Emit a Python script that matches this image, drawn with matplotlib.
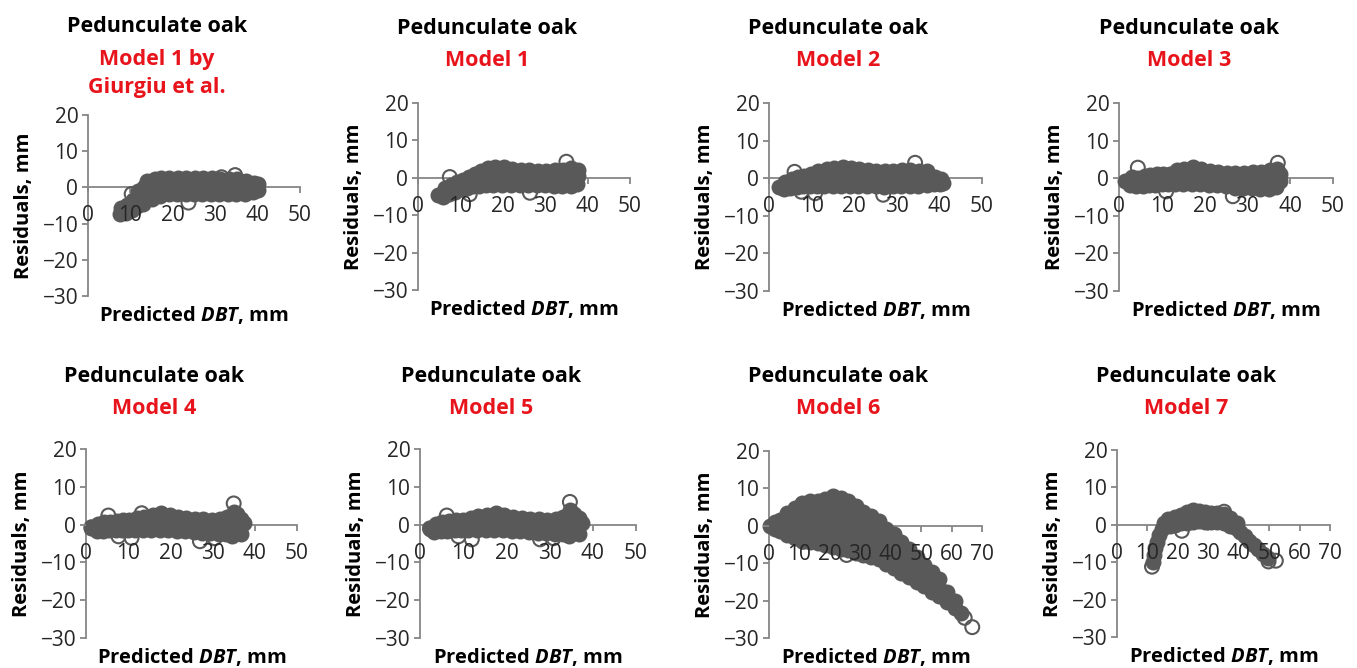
import matplotlib.pyplot as plt

plt.rcParams['font.family'] = ['Open Sans', 'DejaVu Sans']
plt.rcParams['mathtext.fontset'] = 'custom'
plt.rcParams['mathtext.rm'] = 'Open Sans:bold'
plt.rcParams['mathtext.it'] = 'Open Sans:bold:italic'
plt.rcParams['mathtext.bf'] = 'Open Sans:bold'

# residuals: dense part of each cloud, then the lone rings
giurgiu_core = [(7.5, -7.4), (7.8, -5.6), (9, -7.0), (9.3, -4.8), (10.3, -6.2), (10.6, -3.6), (11.5, -5.2),
                (11.5, -3.0), (11.8, -1.0), (13, -4.5), (13, -2.3), (13.3, 0.0), (13.8, 1.8), (15, -3.2),
                (15, -1.2), (15.3, 1.0), (15.8, 2.4), (17, -2.4), (17, 0.0), (17.3, 2.5),
                (19, -1.9), (21, -1.8), (23, -1.9), (25, -1.8), (27, -1.9), (29, -1.8), (31, -1.9), (33, -1.8),
                (35, -1.9), (37, -1.7), (20, 0.3), (22, 0.3), (24, 0.3), (26, 0.3), (28, 0.3), (30, 0.3),
                (32, 0.3), (34, 0.3), (36, 0.3), (38, 0.2), (19.2, 2.5), (21.2, 2.6), (23.2, 2.5), (25.2, 2.6),
                (27.2, 2.5), (29.2, 2.6), (31.2, 2.4), (33.2, 2.4), (35.2, 2.3), (37.2, 1.9),
                (39, -1.2), (39.2, 1.2), (40.2, 0.9), (40.2, -0.8)]
giurgiu_sparse = [(10.3, -1.8), (23.7, -4.2), (34.7, 3.4), (31.5, 2.8)]

model1_core = [(4.8, -4.6), (5.8, -5.0), (6.3, -2.8), (7.3, -4.3), (7.8, -2.0), (8.8, -3.7), (9.2, -1.2),
               (10.2, -3.1), (10.6, -0.6), (11.6, -2.6), (12, 0.3), (13, -2.3), (13.4, 1.1), (14.5, -2.1),
               (14.8, 1.7), (16, -2.0), (16.2, 0.2), (16.6, 2.6), (17.8, -1.9), (18, 0.5), (18.2, 3.0),
               (19.8, -1.9), (20, 0.5), (20.2, 2.9), (22, -1.9), (22, 0.3), (22.2, 2.4), (24, -2.0), (24, 0.2),
               (24.2, 2.1), (26, -2.0), (26, 0.1), (26.2, 2.0), (28, -2.0), (28, 0.1), (28.2, 1.9), (30, -2.0),
               (30, 0.1), (30.2, 1.9), (32, -2.1), (32, 0.1), (32.2, 2.0), (34, -2.2), (34, 0.1), (34.2, 2.1),
               (36, -2.2), (36, 0.2), (36.2, 2.6), (37.6, -1.6), (37.8, 0.4), (37.8, 2.0)]
model1_sparse = [(7.5, 0.2), (12.2, -4.4), (26.4, -4.0), (35, 4.3)]

model2_core = [(2.3, -2.4), (3.5, -2.8), (3.8, -0.9), (5, -2.6), (5.3, -0.3), (6.6, -2.3), (6.8, 0.4), (8, -2.1),
               (8.3, 0.7), (9.6, -2.0), (9.8, 1.1), (11.2, -2.0), (11.4, 0.4), (11.6, 1.8), (13, -2.0), (13.2, 0.4),
               (13.5, 2.4), (15, -2.0), (15, 0.4), (15.3, 2.7), (17, -2.0), (17, 0.4), (17.3, 3.0), (19, -2.0),
               (19, 0.4), (19.2, 2.8), (21, -2.0), (21, 0.3), (21.2, 2.4), (23, -2.0), (23, 0.2), (23.2, 2.1),
               (25, -2.1), (25, 0.1), (25.2, 1.9), (27, -2.3), (27, 0.1), (27.2, 1.9), (29, -2.2), (29, 0.1),
               (29.2, 2.0), (31, -2.1), (31, 0.2), (31.2, 2.3), (33, -2.1), (33, 0.2), (33.2, 2.2), (35, -2.0),
               (35, 0.2), (35.2, 2.0), (37, -1.9), (37, 0.1), (37.2, 1.8), (38.8, -1.6), (39, 0.4), (40.2, -1.6),
               (40.3, -0.1), (40.8, -1.4)]
model2_sparse = [(6.0, 1.7), (7.6, -3.6), (10.8, -4.0), (26.8, -4.4), (34.3, 4.1)]

model3_core = [(1.5, -0.7), (2.5, -1.9), (3, 0.2), (4, -2.1), (4.5, 0), (5.5, -2.0), (6, 0.5), (7, -1.8),
               (7.3, 0.8), (8.5, -1.7), (8.8, 1.0), (10, -1.6), (10.3, 1.0), (11.5, -1.6), (11.8, 1.1), (13, -1.6),
               (13.2, 0.3), (13.5, 2.2), (15, -1.6), (15, 0.4), (15.3, 2.5), (17, -1.6), (17, 0.4), (17.3, 3.0),
               (19, -1.6), (19, 0.4), (19.2, 2.5), (21, -1.7), (21, 0.3), (21.2, 2.0), (23, -1.8), (23, 0.2),
               (23.2, 1.7), (25, -2.1), (25, -0.1), (25.2, 1.5), (27, -2.5), (27, -0.3), (27.2, 1.5), (29, -2.5),
               (29, -0.3), (29.2, 1.5), (31, -2.6), (31, -0.3), (31.2, 1.7), (33, -2.8), (33, -0.5), (33.2, 1.7),
               (35, -2.8), (35, -0.4), (35.2, 2.2), (36.6, -2.4), (36.8, 0.2), (37, 2.5), (37.5, -0.8), (37.5, 1.2)]
model3_sparse = [(4.4, 2.8), (11, -3.5), (26.6, -4.8), (37.1, 4.1)]

model4_core = [(1.2, -0.9), (2.5, -1.7), (2.8, 0.2), (4, -1.6), (4.3, 0.6), (5.5, -1.5), (5.8, 0.8), (7, -1.5),
               (7.3, 1.0), (8.5, -1.5), (8.8, 1.2), (10, -1.5), (10.3, 1.3), (11.5, -1.5), (11.8, 0.3), (12, 1.7),
               (13.5, -1.5), (13.5, 0.4), (13.8, 2.1), (15.5, -1.5), (15.5, 0.5), (15.8, 2.5), (17.5, -1.5),
               (17.5, 0.5), (17.8, 3.0), (19.5, -1.5), (19.5, 0.5), (19.8, 2.5), (21.5, -1.6), (21.5, 0.3),
               (21.8, 2.0), (23.5, -1.7), (23.5, 0.2), (23.8, 1.7), (25.5, -2.0), (25.5, 0.0), (25.8, 1.6),
               (27.5, -2.3), (27.5, -0.2), (27.8, 1.4), (29.5, -2.3), (29.5, -0.3), (29.8, 1.3), (31.5, -2.4),
               (31.5, -0.2), (31.8, 1.5), (33.2, -2.6), (33.2, -0.2), (33.4, 1.9), (34.6, -2.9), (34.6, -0.5),
               (34.6, 1.8), (35, 3.4), (35.8, -1.8), (35.8, 0.5), (35.8, 2.8), (36.8, -2.6), (36.8, -0.3),
               (36.8, 1.6), (37.4, 0.5)]
model4_sparse = [(1.3, -0.7), (5.3, 2.4), (7.7, -3.1), (10.8, -3.5), (13.2, 3.0), (27, -4.4), (30.5, -3.6), (35, 5.6)]

model5_core = [(2.3, -1.1), (3.3, -1.9), (3.6, 0.2), (4.8, -1.7), (5, 0.6), (6.3, -1.6), (6.6, 0.9), (8, -1.5),
               (8.3, 1.1), (9.6, -1.5), (9.9, 1.3), (11.2, -1.4), (11.5, 0.3), (11.8, 1.8), (13.2, -1.4),
               (13.2, 0.4), (13.5, 2.2), (15.2, -1.4), (15.2, 0.5), (15.5, 2.5), (17.2, -1.4), (17.2, 0.6),
               (17.5, 3.0), (19.2, -1.5), (19.2, 0.5), (19.5, 2.5), (21.2, -1.6), (21.2, 0.3), (21.5, 2.0),
               (23.2, -1.7), (23.2, 0.2), (23.5, 1.7), (25.2, -2.0), (25.2, 0.0), (25.5, 1.6), (27.2, -2.3),
               (27.2, -0.2), (27.5, 1.4), (29.2, -2.3), (29.2, -0.3), (29.5, 1.3), (31.2, -2.4), (31.2, -0.2),
               (31.5, 1.5), (33, -2.6), (33, -0.2), (33.2, 1.9), (34.4, -2.9), (34.4, -0.5), (34.4, 1.9),
               (34.8, 3.8), (35.6, -1.8), (35.6, 0.5), (35.6, 2.8), (36.7, -2.6), (36.7, -0.3), (36.7, 1.7),
               (37.4, 0.5)]
model5_sparse = [(2.3, -1.0), (6.2, 2.4), (8.9, -3.1), (12, -3.9), (27.8, -3.9), (30.9, -3.6), (34.7, 6.0)]

model6_core = [(0.3, 0.0), (2, -0.8), (2, 1.0), (3.5, -1.3), (3.5, 1.5),
               (6, -2.4), (6, 0.5), (6, 3.4), (8.5, -3.2), (8.5, -0.5), (8.5, 2.2), (8.5, 4.8),
               (11, -3.7), (11, -0.4), (11, 2.9), (11, 6.2), (13.5, -4.2), (13.5, -1.3), (13.5, 1.6), (13.5, 4.5),
               (13.5, 6.5), (16, -4.7), (16, -1.6), (16, 1.5), (16, 4.5), (16, 6.7), (18.5, -5.2), (18.5, -2.1),
               (18.5, 1.0), (18.5, 4.0), (18.5, 7.1), (21, -5.7), (21, -2.6), (21, 0.5), (21, 3.5), (21, 6.1),
               (21, 7.9), (23.5, -6.1), (23.5, -3.0), (23.5, 0.1), (23.5, 3.2), (23.5, 5.8), (23.5, 7.4),
               (26, -6.5), (26, -3.3), (26, -0.1), (26, 3.1), (26, 6.5), (28.5, -7.2), (28.5, -4.1), (28.5, -1.0),
               (28.5, 2.1), (28.5, 5.4), (31, -7.8), (31, -4.8), (31, -1.8), (31, 1.1), (31, 3.8),
               (33.5, -8.4), (33.5, -5.6), (33.5, -2.8), (33.5, 0.0), (33.5, 2.5), (36, -9.0), (36, -6.3),
               (36, -3.6), (36, -1.0), (36, 1.2), (38.5, -10.1), (38.5, -7.1), (38.5, -4.0), (38.5, -0.8),
               (41, -11.3), (41, -8.3), (41, -5.3), (41, -2.3), (43.5, -12.5), (43.5, -9.7), (43.5, -7.0),
               (43.5, -4.2), (46, -13.7), (46, -11.2), (46, -8.7), (46, -6.3), (48.5, -15.0), (48.5, -12.8),
               (48.5, -10.5), (48.5, -8.3), (51, -16.2), (51, -13.3), (51, -10.4), (53.5, -17.6), (53.5, -15.0),
               (53.5, -12.4), (56, -18.9), (56, -16.6), (56, -14.3), (58.5, -20.5), (58.5, -17.8),
               (61, -22.1), (61, -20.2), (63, -23.2)]
model6_sparse = [(11.2, -4.3), (25.5, -7.8), (64.3, -24.6), (66.8, -27.1)]

model7_core = [(11.8, -10.0), (12.2, -8.2), (12.6, -6.3), (13.2, -4.5), (13.9, -2.7), (14.7, -1.0), (15.6, 0.5),
               (16.8, 1.6), (17.5, -0.3), (19, 0.0), (19, 2.1), (21, 0.4), (21, 2.7), (23, 0.6), (23, 3.3),
               (25, 0.8), (25, 3.9), (27, 0.9), (27, 3.8), (29, 0.8), (29, 3.4), (31, 0.8), (31, 3.2), (33, 0.7),
               (33, 3.2), (35, 0.4), (35, 3.0), (37, -0.2), (37, 1.8), (39, -0.9), (39.3, 0.4), (40.5, -1.9),
               (42, -3.0), (43.5, -4.2), (45, -5.4), (46.5, -6.6), (48, -7.9), (49.5, -9.0)]
model7_sparse = [(11.5, -11.2), (21.3, -1.6), (35.2, 3.5), (49.8, -9.8), (52.2, -9.6)]

species = 'Pedunculate oak'
model_titles = [['Model 1 by', 'Giurgiu et al.'], ['Model 1'], ['Model 2'], ['Model 3'],
                ['Model 4'], ['Model 5'], ['Model 6'], ['Model 7']]
cores = [giurgiu_core, model1_core, model2_core, model3_core, model4_core, model5_core, model6_core, model7_core]
sparses = [giurgiu_sparse, model1_sparse, model2_sparse, model3_sparse,
           model4_sparse, model5_sparse, model6_sparse, model7_sparse]
x_max = [50, 50, 50, 50, 50, 50, 70, 70]

# pixel boxes of the plot areas: left, right, top (y=20), bottom (y=-30)
boxes = [(88, 300, 115, 296), (418, 630, 103, 290), (769, 982, 103, 291), (1119, 1333, 103, 291),
         (86, 297, 449, 638), (420, 636, 449, 638), (769, 982, 451, 638), (1117, 1330, 450, 637)]
title_y = [(26, 59, 88), (28, 60), (28, 60), (28, 60), (376, 408), (376, 408), (376, 408), (376, 408)]

W, H = 1357, 668
grey = '#868686'
marker_grey = '#595959'
red = '#e8141c'

fig = plt.figure(figsize=(W / 100, H / 100), dpi=100)

for i in range(8):
    x0, x1, yt, yb = boxes[i]
    ax = fig.add_axes([x0 / W, 1 - yb / H, (x1 - x0) / W, (yb - yt) / H])
    ax.patch.set_visible(False)
    ax.set_xlim(0, x_max[i])
    ax.set_ylim(-30, 20)

    cx, cy = zip(*cores[i])
    ax.scatter(cx, cy, s=100, facecolor=marker_grey, edgecolor=marker_grey, linewidths=1.5,
               clip_on=False, zorder=3)
    sx, sy = zip(*sparses[i])
    ax.scatter(sx, sy, s=100, facecolor='none', edgecolor=marker_grey, linewidths=1.5,
               clip_on=False, zorder=3)

    for s in ['top', 'right']:
        ax.spines[s].set_visible(False)
    ax.spines['bottom'].set_position(('data', 0))
    for s in ['left', 'bottom']:
        ax.spines[s].set_color(grey)
        ax.spines[s].set_linewidth(1.3)
        ax.spines[s].set_zorder(1)
    ax.xaxis.set_zorder(4)
    ax.yaxis.set_zorder(4)

    xt = list(range(0, x_max[i] + 1, 10))
    ax.set_xticks(xt)
    ax.set_yticks(range(-30, 21, 10))
    ax.tick_params(axis='both', color=grey, width=1.3, length=4, labelsize=15, labelcolor='#262626')
    # x tick marks sit under the residual cloud, their labels stay on top
    ax.tick_params(axis='x', length=0, pad=13)
    ax.plot(xt, [0] * len(xt), ls='none', marker=3, ms=4, mew=1.3, color=grey, zorder=1, clip_on=False)
    ax.tick_params(axis='y', pad=3)

    wpx, hpx = x1 - x0, yb - yt
    ax.set_ylabel('Residuals, mm', fontsize=14.5, fontweight='bold')
    ax.yaxis.set_label_coords(-64 / wpx, 0.5)
    ax.yaxis.label.set_va('center')
    ax.set_xlabel('Predicted $\\mathit{DBT}$, mm', fontsize=14.5, fontweight='bold')
    ax.xaxis.set_label_coords(0.5, -19 / hpx)
    ax.xaxis.label.set_va('center')

    tx = (x0 + x1) / 2 - 37
    lines = [species] + model_titles[i]
    for j, line in enumerate(lines):
        fig.text(tx / W, 1 - title_y[i][j] / H, line, ha='center', va='center', fontsize=15.5,
                 fontweight='bold', color='black' if j == 0 else red)

fig.savefig('out.png', dpi=100)
